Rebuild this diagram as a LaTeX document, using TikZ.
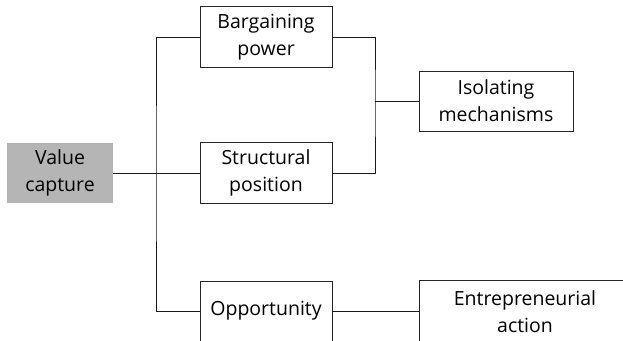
\documentclass[tikz,border=0pt]{standalone}
\usepackage{fontspec}
\setmainfont{Open Sans}
\begin{document}
\begin{tikzpicture}[x=1pt,y=-1pt,
  every node/.style={font=\fontsize{19.5}{27}\selectfont, align=center, inner sep=0pt},
  box/.style={draw=black!85, line width=0.9pt, fill=white, minimum width=132pt, minimum height=61pt},
  conn/.style={draw=black!90, line width=0.9pt}]
\useasboundingbox (0,0) rectangle (623,340);
\clip (0,0) rectangle (623,340);
% boxes
\node[box, fill=black!29, draw=none, minimum width=106pt, minimum height=60pt] (vc) at (60,173) {Value\\capture};
\node[box] (bp) at (266,37) {Bargaining\\power};
\node[box] (sp) at (266,173) {Structural\\position};
\node[box, minimum width=154pt, minimum height=60pt] (im) at (496,101) {Isolating\\mechanisms};
\node[box, minimum height=60pt] (op) at (266,311) {Opportunity};
\node[box, minimum width=212pt, minimum height=64pt] (ea) at (525,312) {Entrepreneurial\\action};
% junctions
\coordinate (jl) at (156,173);
\coordinate (jr) at (375,101);
% connectors
\draw[conn] (bp.west) -| (jl) |- (op.west);
\draw[conn] (vc.east) -- (sp.west);
\draw[conn] (bp.east) -| (jr) |- (sp.east);
\draw[conn] (jr) -- (im.west);
\draw[conn] (op.east) -- (op.east -| ea.west);
\end{tikzpicture}
\end{document}
